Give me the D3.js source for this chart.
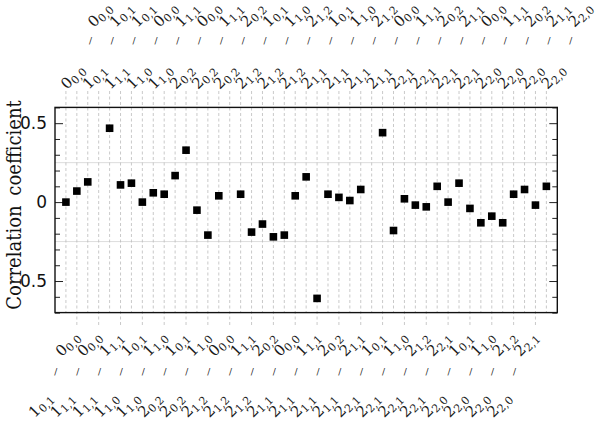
<!DOCTYPE html>
<html>
<head>
<meta charset="utf-8">
<script src="https://cdn.jsdelivr.net/npm/d3@7"></script>
<style>
  body { margin: 0; background: #fff; }
  .lab { font-family: "DejaVu Serif", serif; fill: #1a1a1a; }
  .ytick text { font-family: "DejaVu Sans", sans-serif; font-size: 17px; fill: #111; }
</style>
</head>
<body>
<div id="chart"></div>
<script>
// correlation coefficient per transition column (null = no point)
const values = [
  0.00, 0.07, 0.128, null, 0.468, 0.109, 0.12, 0.0, 0.059, 0.05,
  0.168, 0.329, -0.051, -0.209, 0.04, null, 0.05, -0.19, -0.139, -0.22,
  -0.209, 0.04, 0.16, -0.61, 0.05, 0.03, 0.01, 0.08, null, 0.44,
  -0.18, 0.021, -0.019, -0.03, 0.10, 0.0, 0.12, -0.04, -0.131, -0.089,
  -0.131, 0.05, 0.08, -0.019, 0.10
];

// labels for even columns (drawn on top): near row and far row
const topNear = [
  "00,0", "10,1", "11,1", "11,0", "11,0", "20,2", "20,2", "20,2", "21,2", "21,2",
  "21,2", "21,1", "21,1", "21,1", "21,1", "22,1", "22,1", "22,1", "22,1", "22,0",
  "22,0", "22,0", "22,0"
];
const topFar = [
  "00,0", "10,1", "10,1", "00,0", "11,1", "00,0", "11,1", "20,2", "10,1", "11,0",
  "21,2", "10,1", "11,0", "21,2", "00,0", "11,1", "20,2", "21,1", "00,0", "11,1",
  "20,2", "21,1", "22,0"
];

// labels for odd columns (drawn below)
const bottomNear = [
  "00,0", "00,0", "11,1", "10,1", "11,0", "10,1", "11,0", "00,0", "11,1", "20,2",
  "00,0", "11,1", "20,2", "21,1", "10,1", "11,0", "21,2", "22,1", "10,1", "11,0",
  "21,2", "22,1"
];
const bottomFar = [
  "10,1", "11,1", "11,1", "11,0", "11,0", "20,2", "20,2", "21,2", "21,2", "21,2",
  "21,1", "21,1", "21,1", "21,1", "22,1", "22,1", "22,1", "22,1", "22,0", "22,0",
  "22,0", "22,0"
];

const yMajor = [-0.5, 0, 0.5];
const yMinor = [-0.7, -0.6, -0.4, -0.3, -0.2, -0.1, 0.1, 0.2, 0.3, 0.4, 0.6];
const yGrid = [-0.25, 0.25];

const width = 600, height = 422;
const plotL = 55, plotR = 557.3, plotT = 107.4, plotB = 312.6;

const svg = d3.select("#chart").append("svg")
    .attr("width", width)
    .attr("height", height);

const x = d3.scaleLinear().domain([-1, values.length]).range([plotL, plotR]);
const y = d3.scaleLinear().domain([-0.7, 0.6]).range([plotB, plotT]);

const cols = d3.range(values.length);

// horizontal grid
svg.selectAll(".hgrid")
    .data(yGrid)
    .enter().append("line")
    .attr("x1", plotL).attr("x2", plotR)
    .attr("y1", d => y(d)).attr("y2", d => y(d))
    .attr("stroke", "#ddd")
    .attr("stroke-width", 1);

// dashed vertical grid, top-labelled columns reach up, bottom-labelled reach down
svg.selectAll(".vgrid")
    .data(cols)
    .enter().append("line")
    .attr("x1", d => x(d)).attr("x2", d => x(d))
    .attr("y1", 91)
    .attr("y2", d => d % 2 ? 327 : plotB)
    .attr("stroke", "#bbb")
    .attr("stroke-width", 0.8)
    .attr("stroke-dasharray", "3,2.5");

// y axes, ticks inward on both sides
const gl = svg.append("g").attr("class", "ytick").attr("transform", `translate(${plotL},0)`);
gl.call(d3.axisLeft(y).tickValues(yMajor).tickSize(-8).tickPadding(8)
    .tickFormat(d => d === 0 ? "0" : d3.format(".1f")(Math.abs(d))));
gl.append("g").call(d3.axisLeft(y).tickValues(yMinor).tickSize(-5).tickFormat(""));

const gr = svg.append("g").attr("class", "ytick").attr("transform", `translate(${plotR},0)`);
gr.call(d3.axisRight(y).tickValues(yMajor).tickSize(-8).tickFormat(""));
gr.append("g").call(d3.axisRight(y).tickValues(yMinor).tickSize(-5).tickFormat(""));

svg.selectAll(".ytick .domain").remove();
svg.selectAll(".ytick line").attr("stroke", "#222");

// frame
svg.append("rect")
    .attr("x", plotL).attr("y", plotT)
    .attr("width", plotR - plotL).attr("height", plotB - plotT)
    .attr("fill", "none")
    .attr("stroke", "#111")
    .attr("stroke-width", 1.4);

// points
svg.selectAll(".pt")
    .data(cols.filter(i => values[i] !== null))
    .enter().append("rect")
    .attr("class", "pt")
    .attr("x", i => x(i) - 3.8)
    .attr("y", i => y(values[i]) - 3.8)
    .attr("width", 7.6)
    .attr("height", 7.6)
    .attr("fill", "#000");

// rotated level label: J with Ka,Kc subscript
function level(g, s, px, py, anchor) {
    const t = g.append("text")
        .attr("class", "lab")
        .attr("text-anchor", anchor)
        .attr("transform", `translate(${px},${py}) rotate(-45)`);
    t.append("tspan").attr("font-size", 15).text(s[0]);
    t.append("tspan").attr("font-size", 11).attr("dy", 2.5).text(s.slice(1));
}

function slash(g, px, py) {
    g.append("text")
        .attr("class", "lab")
        .attr("x", px).attr("y", py)
        .attr("text-anchor", "middle")
        .attr("font-size", 9)
        .attr("fill", "#444")
        .text("/");
}

const labels = svg.append("g");

topNear.forEach((s, j) => {
    const cx = x(j * 2);
    level(labels, s, cx + 1, 90, "start");
    slash(labels, cx + 24.5, 44);
    level(labels, topFar[j], cx + 28, 28, "start");
});

bottomNear.forEach((s, j) => {
    const cx = x(j * 2 + 1);
    level(labels, s, cx + 4, 338, "end");
    slash(labels, cx - 21, 375);
    level(labels, bottomFar[j], cx - 23, 399, "end");
});

// y title
svg.append("text")
    .attr("transform", "translate(21,205) rotate(-90)")
    .attr("text-anchor", "middle")
    .attr("font-family", "DejaVu Serif")
    .attr("font-stretch", "condensed")
    .attr("font-size", 20)
    .attr("word-spacing", 4)
    .attr("fill", "#111")
    .text("Correlation coefficient");
</script>
</body>
</html>
